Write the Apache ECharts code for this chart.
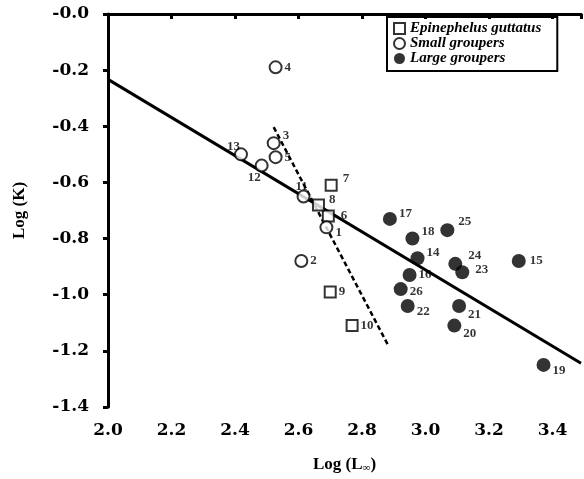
<!DOCTYPE html>
<html>
<head>
<meta charset="utf-8">
<script src="https://cdn.jsdelivr.net/npm/echarts@6/dist/echarts.min.js"></script>
<style>
  html, body { margin: 0; padding: 0; background: #fff; }
  #main { width: 584px; height: 479px; }
</style>
</head>
<body>
<div id="main"></div>
<script>
    // Epinephelus guttatus (open squares)
    var guttatusIds = ['6', '7', '8', '9', '10'];
    var guttatusX = [2.694, 2.703, 2.663, 2.70, 2.769];
    var guttatusY = [-0.72, -0.61, -0.68, -0.99, -1.11];

    // small groupers (open circles)
    var smallIds = ['1', '2', '3', '4', '5', '11', '12', '13'];
    var smallX = [2.688, 2.609, 2.522, 2.528, 2.528, 2.616, 2.484, 2.419];
    var smallY = [-0.76, -0.88, -0.46, -0.19, -0.51, -0.65, -0.54, -0.50];

    // large groupers (filled circles)
    var largeIds = ['14', '15', '16', '17', '18', '19', '20', '21', '22', '23', '24', '25', '26'];
    var largeX = [2.975, 3.294, 2.95, 2.888, 2.959, 3.372, 3.091, 3.106, 2.944, 3.116, 3.094, 3.069, 2.922];
    var largeY = [-0.87, -0.88, -0.93, -0.73, -0.80, -1.25, -1.11, -1.04, -1.04, -0.92, -0.89, -0.77, -0.98];

    // fitted lines
    var solidLineX = [2.0, 3.49];
    var solidLineY = [-0.233, -1.244];
    var dashLineX = [2.522, 2.881];
    var dashLineY = [-0.403, -1.177];

    var xTicks = [2.0, 2.2, 2.4, 2.6, 2.8, 3.0, 3.2, 3.4];
    var yTicks = [0.0, -0.2, -0.4, -0.6, -0.8, -1.0, -1.2, -1.4];

    var legendNames = ['Epinephelus guttatus', 'Small groupers', 'Large groupers'];

    // label nudges per point id (pixels, from the default right-hand spot)
    var labelOffsets = {
        '3': [0, -7], '12': [-23, 12], '13': [-23, -8], '11': [-17, -10],
        '8': [2, -5], '6': [4, 0], '1': [0, 5], '7': [3, -7],
        '17': [0, -5], '18': [0, -7], '25': [2, -9], '14': [0, -6],
        '24': [4, -8], '23': [4, -3], '15': [2, 0], '26': [0, 3],
        '22': [0, 6], '21': [0, 9], '20': [0, 8], '19': [0, 6]
    };

    var serif = '"Liberation Serif", "DejaVu Serif", serif';
    var wideSerif = '"DejaVu Serif", "Liberation Serif", serif';

    function makePoints(ids, xs, ys) {
        return ids.map(function (id, i) {
            return {
                value: [xs[i], ys[i]],
                name: id,
                label: { offset: labelOffsets[id] || [0, 0] }
            };
        });
    }

    function makeLine(xs, ys) {
        return xs.map(function (x, i) { return [x, ys[i]]; });
    }

    var pointLabel = {
        show: true,
        position: 'right',
        distance: 2,
        formatter: function (p) { return p.name; },
        fontFamily: serif,
        fontWeight: 'bold',
        fontSize: 13,
        color: '#000'
    };

    var axisFont = { fontFamily: wideSerif, fontWeight: 'bold', fontSize: 17, color: '#000' };

    var myChart = echarts.init(document.getElementById('main'));

    var option = {
        backgroundColor: '#fff',
        animation: false,
        grid: {
            left: 108,
            right: 0,
            top: 14,
            bottom: 69
        },
        legend: {
            data: legendNames.map(function (n, i) {
                return {
                    name: n,
                    icon: i === 0 ? 'rect' : 'circle',
                    itemStyle: i === 2 ? { color: '#000', borderWidth: 0 } : { color: '#fff', borderColor: '#000', borderWidth: 2 }
                };
            }),
            orient: 'vertical',
            left: 387,
            top: 17,
            itemWidth: 11,
            itemHeight: 11,
            itemGap: 0,
            padding: [4, 16, 5, 6],
            borderColor: '#000',
            borderWidth: 2,
            textStyle: {
                fontFamily: serif,
                fontWeight: 'bold',
                fontStyle: 'italic',
                fontSize: 15,
                lineHeight: 15,
                color: '#000'
            }
        },
        xAxis: [{
            type: 'value',
            min: 2.0,
            max: 3.49,
            interval: 0.2,
            name: 'Log (L{sub|∞})',
            nameLocation: 'middle',
            nameGap: 48,
            nameTextStyle: {
                fontFamily: serif, fontWeight: 'bold', fontSize: 17, color: '#000',
                rich: { sub: { fontFamily: serif, fontWeight: 'bold', fontSize: 11, verticalAlign: 'bottom', padding: [8, 0, 0, 0] } }
            },
            axisLine: { lineStyle: { color: '#000', width: 3 } },
            axisTick: { inside: false, length: 5, lineStyle: { color: '#000', width: 3 } },
            axisLabel: Object.assign({
                margin: 15,
                formatter: function (v) {
                    return xTicks.some(function (t) { return Math.abs(t - v) < 1e-6; }) ? v.toFixed(1) : '';
                }
            }, axisFont),
            splitLine: { show: false }
        }, {
            // top frame line
            type: 'value',
            position: 'top',
            min: 2.0,
            max: 3.49,
            axisLine: { show: true, lineStyle: { color: '#000', width: 3 } },
            axisTick: { show: false },
            axisLabel: { show: false },
            splitLine: { show: false }
        }],
        yAxis: {
            type: 'value',
            min: -1.4,
            max: 0,
            interval: 0.2,
            name: 'Log (K)',
            nameLocation: 'middle',
            nameGap: 80,
            nameRotate: 90,
            nameTextStyle: { fontFamily: serif, fontWeight: 'bold', fontSize: 17, color: '#000' },
            axisLine: { lineStyle: { color: '#000', width: 3 } },
            axisTick: { inside: false, length: 5, lineStyle: { color: '#000', width: 3 } },
            axisLabel: Object.assign({
                margin: 19,
                formatter: function (v) {
                    var t = yTicks.filter(function (t) { return Math.abs(t - v) < 1e-6; });
                    if (!t.length) return '';
                    return Math.abs(v) < 1e-6 ? '-0.0' : v.toFixed(1);
                }
            }, axisFont),
            splitLine: { show: false }
        },
        series: [
            {
                name: 'regression',
                type: 'line',
                data: makeLine(solidLineX, solidLineY),
                symbol: 'none',
                lineStyle: { color: '#000', width: 3 },
                z: 1
            },
            {
                name: 'dashed',
                type: 'line',
                data: makeLine(dashLineX, dashLineY),
                symbol: 'none',
                lineStyle: { color: '#000', width: 2.5, type: [5, 3] },
                z: 1
            },
            {
                name: legendNames[0],
                type: 'scatter',
                data: makePoints(guttatusIds, guttatusX, guttatusY),
                symbol: 'rect',
                symbolSize: 11,
                itemStyle: { color: '#fff', borderColor: '#000', borderWidth: 2 },
                label: pointLabel,
                z: 3
            },
            {
                name: legendNames[1],
                type: 'scatter',
                data: makePoints(smallIds, smallX, smallY),
                symbol: 'circle',
                symbolSize: 12,
                itemStyle: { color: '#fff', borderColor: '#000', borderWidth: 2 },
                label: pointLabel,
                z: 3
            },
            {
                name: legendNames[2],
                type: 'scatter',
                data: makePoints(largeIds, largeX, largeY),
                symbol: 'circle',
                symbolSize: 14,
                itemStyle: { color: '#000' },
                label: pointLabel,
                z: 3
            }
        ]
    };

    myChart.setOption(option);
</script>
</body>
</html>
